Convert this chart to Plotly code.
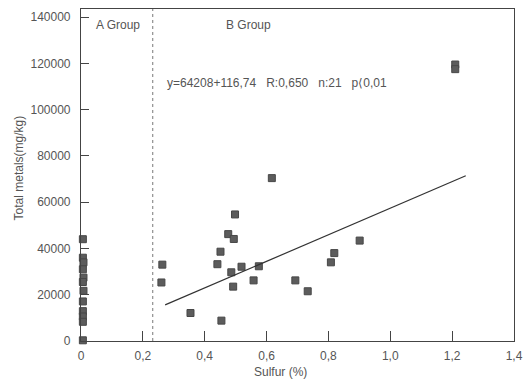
import plotly.graph_objects as go

# ---- data ----
a_sulfur = [0.006, 0.006, 0.008, 0.006, 0.008, 0.006, 0.008, 0.006, 0.006, 0.006, 0.006, 0.006]
a_metals = [44000, 36000, 34000, 31000, 27400, 25500, 21700, 17100, 12900, 10600, 8300, 300]

b_sulfur = [0.263, 0.260, 0.354, 0.454, 0.441, 0.451, 0.476, 0.494, 0.498, 0.486, 0.492,
            0.519, 0.558, 0.575, 0.617, 0.693, 0.733, 0.808, 0.819, 0.901, 1.210, 1.210]
b_metals = [33000, 25300, 12100, 8800, 33200, 38600, 46200, 44100, 54700, 29700, 23500,
            32100, 26200, 32300, 70400, 26200, 21500, 34000, 38000, 43400, 119500, 117500]

fit_x = [0.272, 1.244]
fit_y = [15600, 71400]

group_boundary = 0.232

x_ticks = [0, 0.2, 0.4, 0.6, 0.8, 1.0, 1.2, 1.4]
x_ticktext = ["0", "0,2", "0,4", "0,6", "0,8", "1,0", "1,2", "1,4"]
y_ticks = [0, 20000, 40000, 60000, 80000, 100000, 120000, 140000]
y_ticktext = ["0", "20000", "40000", "60000", "80000", "100000", "120000", "140000"]

equation_text = "y=64208+116,74   R:0,650   n:21   p\u27e80,01"

FONT = "Liberation Sans"
TXT = "#555555"
AX = "#444444"

fig = go.Figure()
marker = dict(symbol="square", size=7, color="#5c5c5c", line=dict(color="#474747", width=1))
fig.add_trace(go.Scatter(x=a_sulfur, y=a_metals, mode="markers", marker=marker,
                         cliponaxis=False, showlegend=False))
fig.add_trace(go.Scatter(x=b_sulfur, y=b_metals, mode="markers", marker=marker,
                         cliponaxis=False, showlegend=False))
fig.add_trace(go.Scatter(x=fit_x, y=fit_y, mode="lines", line=dict(color="#333333", width=1.2),
                         showlegend=False))

fig.add_shape(type="line", xref="x", yref="paper", x0=group_boundary, x1=group_boundary,
              y0=0, y1=1, line=dict(color="#777777", width=1, dash="3px,3px"))

fig.add_annotation(x=0.12, y=136600, text="A Group", showarrow=False,
                   font=dict(family=FONT, size=12, color=TXT))
fig.add_annotation(x=0.543, y=136600, text="B Group", showarrow=False,
                   font=dict(family=FONT, size=12, color=TXT))
fig.add_annotation(x=0.272, y=111500, text=equation_text, showarrow=False, xanchor="left",
                   font=dict(family=FONT, size=12, color=TXT))
fig.add_annotation(xref="paper", yref="paper", x=0.46, y=-0.093, text="Sulfur (%)",
                   xanchor="center", yanchor="middle",
                   showarrow=False, font=dict(family=FONT, size=12, color=TXT))
fig.add_annotation(xref="paper", yref="paper", x=-0.143, y=0.52, text="Total metals(mg/kg)",
                   xanchor="center", yanchor="middle",
                   textangle=-90, showarrow=False, font=dict(family=FONT, size=12, color=TXT))

fig.update_xaxes(range=[0, 1.4], tickvals=x_ticks, ticktext=x_ticktext, ticks="inside",
                 ticklen=10, tickcolor=AX, showline=True, linecolor=AX, linewidth=1.2,
                 mirror=True, showgrid=False, zeroline=False, automargin=False,
                 ticklabelstandoff=3,
                 tickfont=dict(family=FONT, size=12, color=TXT))
fig.update_yaxes(range=[0, 143500], tickvals=y_ticks, ticktext=y_ticktext, ticks="inside",
                 ticklen=8, tickcolor=AX, showline=True, linecolor=AX, linewidth=1.2,
                 mirror=True, showgrid=False, zeroline=False, automargin=False,
                 ticklabelstandoff=7,
                 tickfont=dict(family=FONT, size=12, color=TXT))

fig.update_layout(width=526, height=388, margin=dict(l=81, r=12, t=9, b=47),
                  plot_bgcolor="white", paper_bgcolor="white")

fig.write_html("out.html", config={"displayModeBar": False},
               post_script="document.body.style.margin='0';document.body.style.padding='0';")
